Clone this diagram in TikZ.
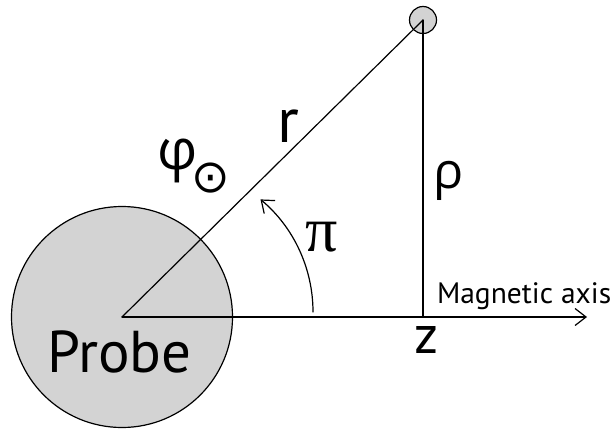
\documentclass[tikz,border=0pt]{standalone}
\usepackage{fontspec}
\setmainfont{PT Sans}
\newfontfamily\greekfont{Open Sans}
\newfontfamily\pifont{Liberation Serif}
\newfontfamily\symfont{DejaVu Sans}
\usetikzlibrary{arrows.meta}
\definecolor{probegray}{RGB}{211,211,211}
\tikzset{
  line/.style={line width=1.2pt, line cap=round},
  barb/.style={-{Straight Barb[length=11pt,width=17pt,line width=1.2pt]}},
  lbl/.style={inner sep=0pt, outer sep=0pt},
}
\newcommand{\fs}[1]{\fontsize{#1}{#1}\selectfont}
\begin{document}
\begin{tikzpicture}[x=1pt,y=-1pt]
\useasboundingbox (0,0) rectangle (615,431);
% shapes
\node[circle, draw, line width=1.2pt, fill=probegray, minimum size=221pt, inner sep=0pt] (probe) at (122,317) {};
\node[circle, draw, line width=1.2pt, fill=probegray, minimum size=27pt, inner sep=0pt] (charge) at (423,20) {};
\coordinate (P) at (122,317);
\coordinate (Q) at (423,20);
\coordinate (Z) at (423,317);
\coordinate (axisend) at (587,317);
% connectors
\draw[line] (P) -- (Q);
\draw[line] (Z) -- (Q);
\draw[line, barb] (P) -- (axisend);
\draw[line, barb] (313,312) arc[start angle=0, end angle=-50, radius=147];
% labels
\node[lbl, anchor=base] (probetxt) at (119.5,372.7) {\fs{59}Probe};
\node[lbl, anchor=base] (rlbl) at (288,142.7) {\fs{64}r};
\node[lbl, anchor=base] (zlbl) at (427,353.3) {\fs{54}z};
\node[lbl, anchor=base west] (axislbl) at (437,303.3) {\fs{29.5}Magnetic axis};
\node[lbl, anchor=base] (rholbl) at (449,188) {\greekfont\fs{50}ρ};
\node[lbl] (philbl) at (178,161) {\greekfont\fs{56}φ};
\node[lbl] (odotlbl) at (211,178) {\symfont\fs{46}⊙};
\node[lbl] (pilbl) at (322,237) {\pifont\fs{64}π};
\end{tikzpicture}
\end{document}
